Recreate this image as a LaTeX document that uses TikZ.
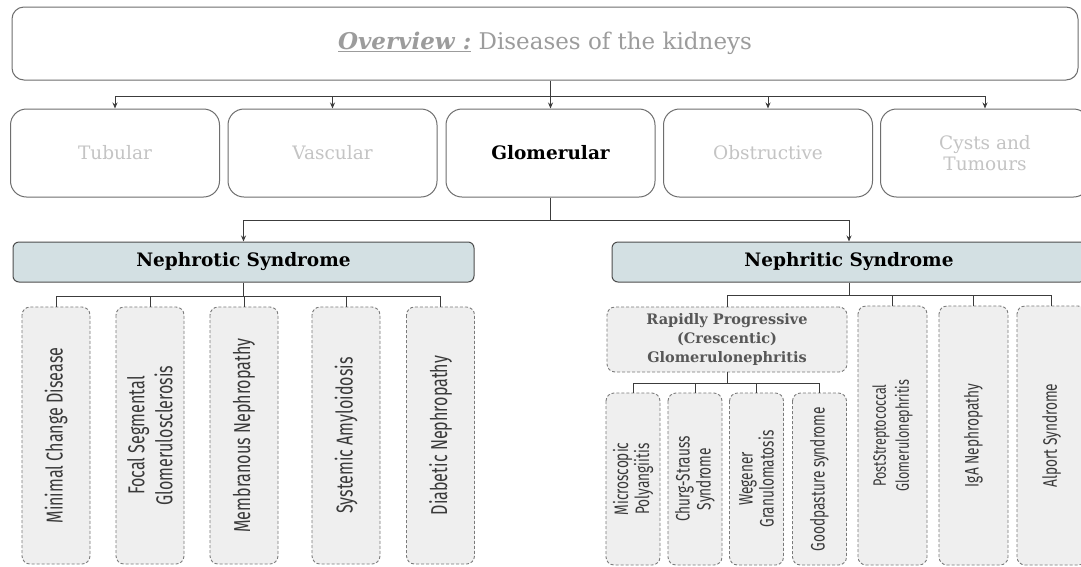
\documentclass[tikz,border=0pt]{standalone}
\usepackage{fontspec}
\setmainfont{DejaVu Serif}
\newfontfamily\leaffont[FakeStretch=0.7]{Fira Sans}
\usetikzlibrary{arrows.meta}

\definecolor{boxline}{HTML}{6E6E6E}
\definecolor{linkline}{HTML}{3C3C3C}
\definecolor{fadetext}{HTML}{C4C4C4}
\definecolor{toptext}{HTML}{9C9C9C}
\definecolor{syndfill}{HTML}{D3E0E3}
\definecolor{leaffill}{HTML}{EFEFEF}
\definecolor{leafline}{HTML}{7A7A7A}
\definecolor{leaftext}{HTML}{3A3A3A}

\tikzset{
    topbox/.style={draw=boxline, line width=1pt, rounded corners=12pt,
        minimum width=1066pt, minimum height=73pt, text=toptext,
        font=\fontsize{23}{27}\selectfont},
    groupbox/.style={draw=boxline, line width=1pt, rounded corners=16pt,
        minimum width=209pt, minimum height=88pt, align=center,
        text=fadetext, font=\fontsize{18.5}{21}\selectfont},
    syndbox/.style={draw=boxline!70!black, fill=syndfill, line width=1pt,
        rounded corners=6pt, minimum height=40pt,
        font=\bfseries\fontsize{18.5}{22}\selectfont},
    leafbox/.style={draw=leafline, fill=leaffill, line width=0.9pt,
        dash pattern=on 3pt off 2pt, rounded corners=8pt, rotate=90,
        minimum width=257pt, minimum height=68pt, inner sep=2pt,
        align=center, text=leaftext, font=\leaffont\fontsize{23}{28}\selectfont},
    link/.style={draw=linkline, line width=1pt},
    linkarrow/.style={link, -{Stealth[length=6pt,width=5pt]}}
}

\begin{document}
\begin{tikzpicture}[x=1pt,y=-1pt]
        %FRAME
        \clip (0,0) rectangle (1081,566);
        \fill[white] (0,0) rectangle (1081,566);

        %OVERVIEW
        \node[topbox] (top) at (545,43.5)
            {{\bfseries\itshape\underline{Overview :}} Diseases of the kidneys};

        %GROUPS
        \node[groupbox] (tub)  at (115,153)   {Tubular};
        \node[groupbox] (vasc) at (332.5,153) {Vascular};
        \node[groupbox, text=black, font=\bfseries\fontsize{18.5}{21}\selectfont]
                        (glom) at (550.5,153) {Glomerular};
        \node[groupbox] (obst) at (768,153)   {Obstructive};
        \node[groupbox] (cyst) at (985,153)   {Cysts and\\Tumours};

        \coordinate (rowsplit) at (550.5,96);
        \draw[link] (glom.north |- top.south) -- (rowsplit);
        \foreach \g in {tub,vasc,glom,obst,cyst}
            \draw[linkarrow] (rowsplit) -| (\g.north);

        %SYNDROMES
        \node[syndbox, minimum width=461pt] (nephrotic) at (243.5,262) {Nephrotic Syndrome};
        \node[syndbox, minimum width=474pt] (nephritic) at (849,262) {Nephritic Syndrome};

        \coordinate (glomsplit) at (550.5,220);
        \draw[link] (glom.south) -- (glomsplit);
        \foreach \s in {nephrotic,nephritic}
            \draw[linkarrow] (glomsplit) -| (\s.north);

        %NEPHROTIC
        \node[leafbox] (mcd)  at (56,435.5)    {Minimal Change Disease};
        \node[leafbox] (fsgs) at (150,435.5)   {Focal Segmental\\Glomerulosclerosis};
        \node[leafbox] (mn)   at (244,435.5)   {Membranous Nephropathy};
        \node[leafbox] (amy)  at (346,435.5)   {Systemic Amyloidosis};
        \node[leafbox] (dn)   at (440.5,435.5) {Diabetic Nephropathy};

        \coordinate (nsplit) at (243.5,296);
        \draw[link] (nephrotic.south) -- (nsplit);
        \foreach \l in {mcd,fsgs,mn,amy,dn}
            \draw[link] (nsplit) -| (\l.east);

        %NEPHRITIC
        \node[leafbox, rotate=-90, minimum width=240pt, minimum height=65pt,
            text=leaftext!85!white, font=\bfseries\fontsize{14.5}{19}\selectfont]
            (rpgn) at (727,339.5) {Rapidly Progressive\\(Crescentic)\\Glomerulonephritis};
        \node[leafbox, minimum width=259pt, minimum height=69pt,
            font=\leaffont\fontsize{18}{23}\selectfont]
            (psgn) at (892.5,435.5) {PostStreptococcal\\Glomerulonephritis};
        \node[leafbox, minimum width=259pt, minimum height=69pt,
            font=\leaffont\fontsize{19.5}{23}\selectfont]
            (iga) at (973.5,435.5) {IgA Nephropathy};
        \node[leafbox, minimum width=259pt, minimum height=69pt,
            font=\leaffont\fontsize{19.5}{23}\selectfont]
            (alport) at (1051.5,435.5) {Alport Syndrome};

        \coordinate (rsplit) at (849,295);
        \draw[link] (nephritic.south) -- (rsplit);
        \draw[link] (rsplit) -| (rpgn.north);
        \foreach \l in {psgn,iga,alport}
            \draw[link] (rsplit) -| (\l.east);

        %RPGN
        \tikzset{subleaf/.style={leafbox, minimum width=172pt, minimum height=54pt,
            font=\leaffont\fontsize{19.5}{21}\selectfont}}
        \node[subleaf] (mpa)  at (633,479)   {Microscopic\\Polyangiitis};
        \node[subleaf] (css)  at (695,479)   {Churg-Strauss\\Syndrome};
        \node[subleaf] (gpa)  at (756.5,479) {Wegener\\Granulomatosis};
        \node[subleaf] (gbm)  at (819.5,479) {Goodpasture syndrome};

        \coordinate (subsplit) at (727,383);
        \draw[link] (rpgn.south) -- (subsplit);
        \foreach \l in {mpa,css,gpa,gbm}
            \draw[link] (subsplit) -| (\l.east);
    \end{tikzpicture}
\end{document}
